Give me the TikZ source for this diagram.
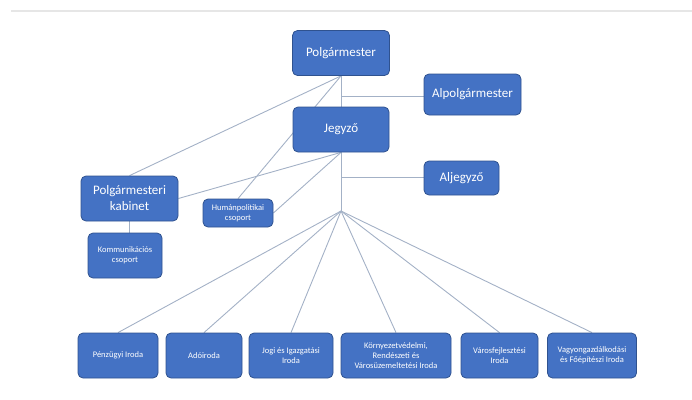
\documentclass[tikz,border=0pt]{standalone}
\usepackage{fontspec}
\setmainfont{Carlito}
\usetikzlibrary{backgrounds}
\definecolor{boxblue}{HTML}{4472C4}
\definecolor{boxedge}{HTML}{2F528F}
\definecolor{linkgray}{HTML}{A3B1C6}
\definecolor{rulegray}{HTML}{E6E6E6}

\begin{document}
\begin{tikzpicture}
		[x=1pt,y=-1pt,
		 unit/.style={draw=boxedge,fill=boxblue,text=white,rounded corners=5pt,align=center,inner sep=2pt,line width=0.8pt},
		 bigunit/.style={unit,minimum width=97pt,minimum height=45pt,font=\fontsize{13}{16}\selectfont},
		 smallunit/.style={unit,minimum height=45pt,font=\fontsize{8.5}{10.2}\selectfont},
		 link/.style={draw=linkgray,line width=0.9pt}]
		\useasboundingbox (0,0) rectangle (692,399);
		% thin rule along the top
		\draw [rulegray,line width=2pt] (11,11) -- (692,11);

		% leadership
		\node [bigunit] (mayor) at (341,53) {Polgármester};
		\node [bigunit,minimum height=41pt] (deputy) at (472.5,94.5) {Alpolgármester};
		\node [bigunit,minimum width=96pt] (notary) at (341,129.5) {Jegyző};
		\node [bigunit,minimum width=75pt,minimum height=34pt] (subnotary) at (461.5,178) {Aljegyző};

		% groups beside the notary
		\node [bigunit] (cabinet) at (129.5,198.5) {Polgármesteri\\kabinet};
		\node [smallunit,minimum width=70pt,minimum height=28pt] (hr) at (238,213) {Humánpolitikai\\csoport};
		\node [smallunit,minimum width=74pt] (comm) at (125,255.5) {Kommunikációs\\csoport};

		% offices along the bottom
		\node [smallunit,minimum width=80pt] (finance) at (118,355.5) {Pénzügyi Iroda};
		\node [smallunit,minimum width=76pt] (tax) at (204,355.5) {Adóiroda};
		\node [smallunit,minimum width=84pt] (legal) at (291,355.5) {Jogi és Igazgatási\\Iroda};
		\node [smallunit,minimum width=110pt] (env) at (396,355.5) {Környezetvédelmi,\\Rendészeti és\\Városüzemeltetési Iroda};
		\node [smallunit,minimum width=77pt] (urban) at (499.5,355.5) {Városfejlesztési\\Iroda};
		\node [smallunit,minimum width=89pt] (assets) at (592,355.5) {Vagyongazdálkodási\\és Főépítészi Iroda};

		\coordinate (hub) at (341,211);
		\coordinate (deputyjoin) at (341,96);
		\coordinate (subjoin) at (341,177);

		% connectors behind the boxes
		\begin{scope}[on background layer]
			\draw [link] (mayor.south) -- (cabinet.north);
			\draw [link] (mayor.south) -- (hr.north);
			\draw [link] (mayor.south) -- (hub);
			\draw [link] (deputyjoin) -- (deputyjoin -| deputy.west);
			\draw [link] (notary.south) -- (cabinet.east);
			\draw [link] (notary.south) -- (hr.east);
			\draw [link] (subjoin) -- (subjoin -| subnotary.west);
			\draw [link] (cabinet.south) -- (cabinet.south |- comm.north);
			\foreach \office in {finance,tax,legal,env,urban,assets}
				\draw [link] (hub) -- (\office.north);
		\end{scope}
	\end{tikzpicture}
\end{document}
